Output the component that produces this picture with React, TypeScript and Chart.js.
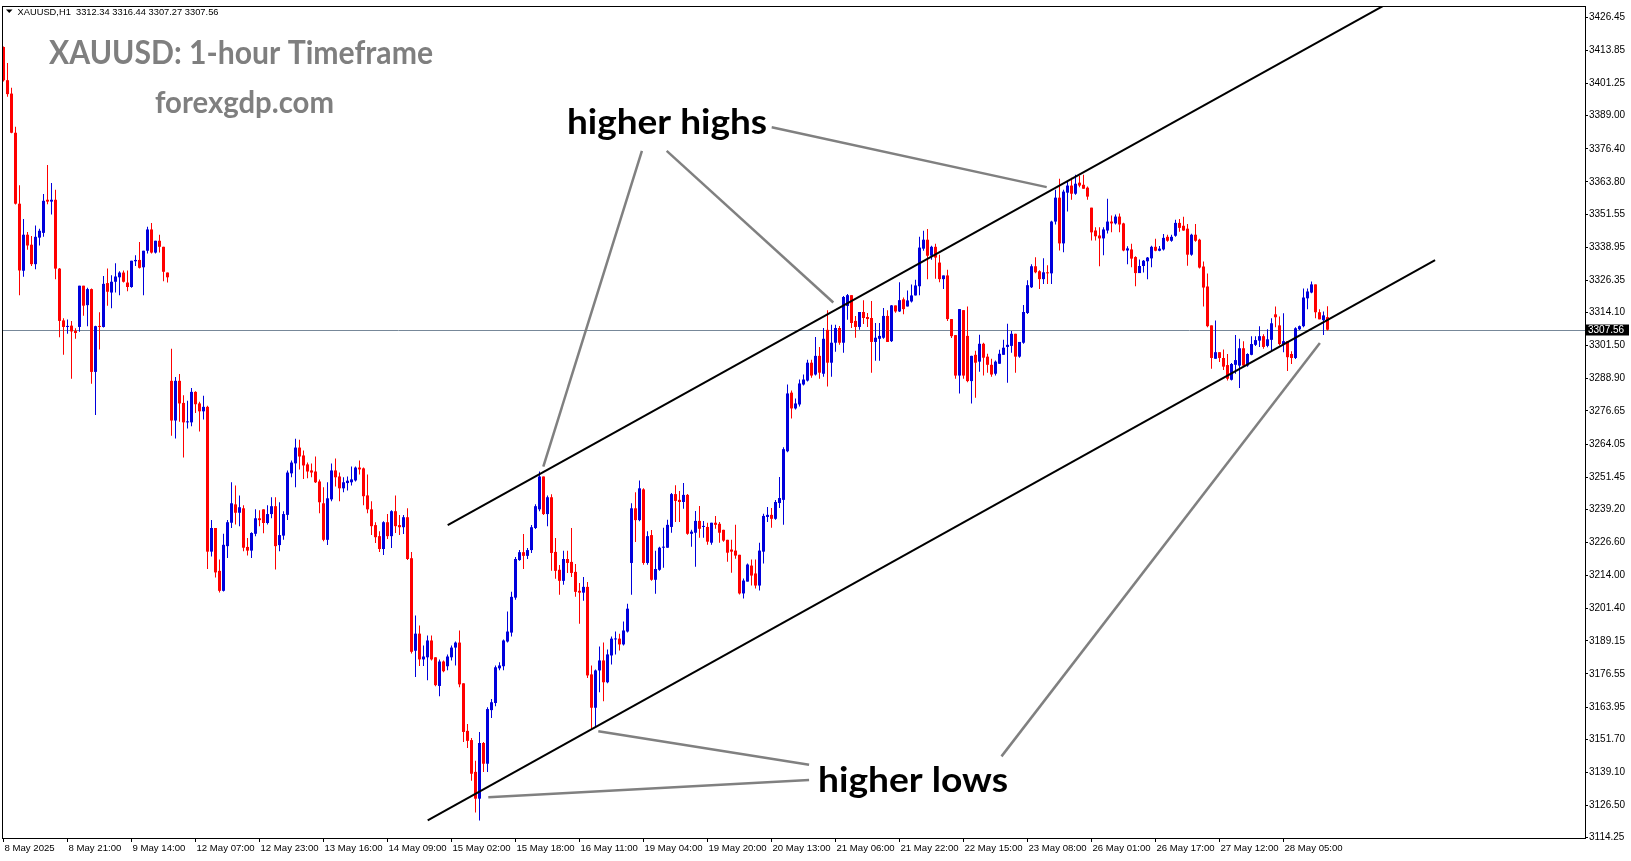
import { useEffect, useRef } from "react";
import { Chart, registerables } from "chart.js";

Chart.register(...registerables);

// ---- data (hourly XAUUSD candles) ----
const opens = [
  3415.1, 3402.5, 3397.4, 3382.5, 3355.5, 3330.0, 3343.7, 3339.9, 3332.5, 3342.6,
  3344.4, 3357.0, 3356.3, 3357.0, 3330.8, 3311.1, 3308.6, 3309.1, 3307.1, 3308.6,
  3324.3, 3316.9, 3323.0, 3291.5, 3309.0, 3308.6, 3325.3, 3321.7, 3325.8, 3327.5,
  3329.3, 3325.5, 3323.8, 3333.6, 3334.1, 3331.3, 3337.6, 3345.7, 3336.9, 3341.4,
  3339.1, 3329.3, 3288.1, 3273.0, 3288.1, 3279.7, 3272.3, 3272.3, 3283.9, 3279.5,
  3276.5, 3278.2, 3223.1, 3232.1, 3215.8, 3208.2, 3225.2, 3234.1, 3241.1, 3237.9,
  3239.6, 3224.9, 3223.5, 3229.9, 3235.8, 3239.2, 3234.0, 3237.4, 3240.4, 3225.6,
  3229.2, 3237.1, 3252.9, 3256.7, 3262.7, 3259.7, 3256.3, 3254.0, 3253.6, 3249.8,
  3241.5, 3227.6, 3243.0, 3254.0, 3251.7, 3247.2, 3249.2, 3249.5, 3250.2, 3255.1,
  3254.8, 3244.5, 3239.2, 3233.2, 3229.0, 3224.1, 3234.3, 3229.0, 3238.5, 3233.2,
  3232.4, 3236.2, 3220.6, 3185.4, 3191.9, 3182.1, 3182.9, 3189.3, 3182.9, 3172.0,
  3181.3, 3179.5, 3182.9, 3186.6, 3188.5, 3173.0, 3154.9, 3151.4, 3139.3, 3129.1,
  3150.3, 3142.4, 3162.8, 3165.5, 3178.7, 3179.5, 3188.9, 3192.3, 3205.6, 3219.9,
  3222.9, 3221.5, 3223.7, 3232.1, 3239.2, 3251.7, 3237.4, 3243.8, 3223.0, 3216.2,
  3212.0, 3220.3, 3219.2, 3215.4, 3208.2, 3207.5, 3209.7, 3176.4, 3163.7, 3177.9,
  3181.7, 3173.4, 3183.6, 3189.7, 3190.0, 3187.8, 3192.7, 3218.8, 3239.6, 3235.1,
  3246.8, 3218.8, 3229.4, 3212.4, 3216.2, 3224.6, 3224.6, 3232.5, 3245.0, 3242.8,
  3242.0, 3244.7, 3229.9, 3230.3, 3234.8, 3232.5, 3232.5, 3226.5, 3234.1, 3233.7,
  3231.4, 3227.6, 3223.9, 3223.5, 3221.9, 3207.2, 3211.7, 3217.8, 3214.8, 3210.2,
  3223.1, 3236.3, 3237.1, 3235.6, 3241.6, 3242.8, 3261.3, 3283.6, 3277.6, 3279.1,
  3286.7, 3288.2, 3295.0, 3290.5, 3297.6, 3290.8, 3307.5, 3295.0, 3302.6, 3308.2,
  3302.6, 3316.6, 3320.7, 3310.9, 3308.6, 3314.3, 3312.4, 3312.0, 3302.9, 3304.1,
  3304.5, 3312.8, 3303.2, 3316.8, 3314.5, 3319.1, 3316.4, 3318.3, 3320.6, 3324.1,
  3338.4, 3341.8, 3335.7, 3339.1, 3333.1, 3326.8, 3328.2, 3311.6, 3305.5, 3290.1,
  3315.0, 3305.2, 3288.0, 3298.0, 3295.4, 3302.2, 3297.3, 3294.2, 3290.8, 3294.6,
  3298.0, 3301.0, 3301.4, 3306.0, 3297.3, 3302.6, 3313.9, 3323.7, 3331.7, 3329.8,
  3326.8, 3329.4, 3329.0, 3348.7, 3357.8, 3340.4, 3359.7, 3362.4, 3359.3, 3363.5,
  3362.7, 3361.6, 3354.0, 3345.3, 3343.4, 3342.3, 3345.3, 3348.7, 3348.0, 3350.6,
  3348.0, 3337.7, 3338.1, 3335.2, 3329.1, 3331.8, 3333.6, 3334.7, 3339.1, 3337.6,
  3338.1, 3342.9, 3341.4, 3343.3, 3348.2, 3347.1, 3346.0, 3336.1, 3343.7, 3341.8,
  3331.6, 3324.0, 3309.2, 3296.5, 3299.0, 3296.8, 3294.1, 3288.5, 3294.2, 3293.9,
  3300.5, 3293.9, 3298.0, 3301.8, 3303.4, 3305.1, 3301.4, 3303.7, 3313.4, 3309.2,
  3302.1, 3303.2, 3298.3, 3296.8, 3307.7, 3308.9, 3319.5, 3321.7, 3324.8, 3314.2,
  3311.2, 3312.34,
];

const highs = [
  3415.3, 3409.0, 3399.6, 3384.8, 3362.5, 3349.7, 3344.7, 3343.2, 3347.2, 3346.0,
  3359.2, 3370.2, 3363.4, 3360.8, 3331.0, 3311.9, 3311.4, 3310.9, 3308.1, 3324.3,
  3324.3, 3323.5, 3323.2, 3309.1, 3314.2, 3328.0, 3330.8, 3328.3, 3332.8, 3329.8,
  3330.1, 3330.1, 3333.8, 3335.9, 3340.9, 3337.6, 3346.7, 3348.2, 3341.4, 3343.7,
  3339.1, 3329.3, 3300.3, 3289.6, 3290.7, 3282.6, 3280.5, 3285.4, 3284.1, 3280.1,
  3282.4, 3278.6, 3235.1, 3232.1, 3220.1, 3229.9, 3235.1, 3249.5, 3248.3, 3244.5,
  3240.8, 3228.3, 3230.5, 3239.2, 3238.9, 3239.2, 3240.8, 3243.8, 3243.8, 3241.9,
  3238.5, 3254.0, 3257.8, 3266.1, 3265.7, 3261.6, 3257.0, 3256.6, 3259.3, 3250.6,
  3247.6, 3249.5, 3256.6, 3258.5, 3253.2, 3251.4, 3251.7, 3255.5, 3255.5, 3257.8,
  3255.1, 3252.5, 3242.3, 3234.3, 3230.9, 3234.7, 3237.4, 3238.9, 3244.5, 3237.0,
  3237.0, 3239.6, 3223.0, 3198.8, 3195.0, 3187.4, 3191.2, 3191.2, 3182.9, 3182.1,
  3181.7, 3184.0, 3187.4, 3188.9, 3193.1, 3173.0, 3157.5, 3152.2, 3143.5, 3154.5,
  3150.7, 3163.9, 3167.0, 3179.8, 3181.0, 3189.7, 3200.3, 3207.8, 3221.1, 3223.7,
  3229.8, 3224.5, 3233.2, 3241.1, 3253.6, 3251.7, 3244.5, 3244.9, 3228.3, 3218.0,
  3223.4, 3223.4, 3232.1, 3218.4, 3211.2, 3213.5, 3211.6, 3179.8, 3178.3, 3187.0,
  3188.5, 3185.9, 3190.8, 3192.7, 3191.9, 3196.5, 3203.3, 3241.5, 3245.7, 3250.2,
  3247.2, 3230.9, 3231.3, 3223.4, 3225.0, 3232.2, 3235.2, 3245.4, 3248.4, 3246.2,
  3249.2, 3245.0, 3231.4, 3238.6, 3240.5, 3234.8, 3234.1, 3234.1, 3236.7, 3234.4,
  3231.4, 3227.6, 3227.6, 3233.3, 3221.9, 3212.9, 3218.6, 3220.1, 3220.1, 3226.5,
  3237.5, 3240.1, 3239.7, 3242.8, 3251.5, 3262.8, 3286.7, 3284.4, 3281.4, 3288.6,
  3290.5, 3296.1, 3296.1, 3304.8, 3301.0, 3308.2, 3315.0, 3309.4, 3309.4, 3309.0,
  3320.4, 3321.1, 3320.7, 3312.8, 3314.3, 3318.8, 3313.9, 3318.5, 3310.1, 3310.1,
  3315.8, 3315.0, 3317.0, 3316.8, 3325.6, 3319.8, 3322.5, 3324.8, 3326.6, 3342.9,
  3345.2, 3345.9, 3339.5, 3340.3, 3336.1, 3328.2, 3330.4, 3311.6, 3305.5, 3315.4,
  3315.0, 3316.4, 3297.6, 3299.5, 3305.6, 3302.6, 3298.4, 3296.5, 3295.8, 3299.9,
  3303.7, 3309.8, 3307.1, 3306.0, 3302.9, 3317.0, 3326.4, 3332.5, 3335.1, 3330.2,
  3334.7, 3332.1, 3349.0, 3360.8, 3365.0, 3360.8, 3364.2, 3365.4, 3366.5, 3366.1,
  3366.5, 3362.0, 3354.0, 3346.5, 3346.5, 3346.5, 3357.4, 3351.0, 3351.4, 3351.8,
  3348.3, 3339.3, 3340.3, 3335.5, 3334.3, 3334.1, 3335.2, 3339.5, 3342.2, 3339.4,
  3344.0, 3343.7, 3343.7, 3349.4, 3349.7, 3350.5, 3347.8, 3344.1, 3347.8, 3342.2,
  3333.5, 3328.9, 3309.2, 3311.1, 3299.0, 3300.0, 3298.3, 3294.9, 3305.5, 3304.1,
  3303.2, 3298.6, 3305.1, 3305.1, 3308.9, 3305.8, 3307.7, 3311.9, 3316.4, 3312.6,
  3313.8, 3303.2, 3299.4, 3308.5, 3309.2, 3323.2, 3323.2, 3325.9, 3324.8, 3315.3,
  3314.5, 3316.44,
];

const lows = [
  3402.0, 3396.2, 3382.3, 3355.2, 3320.7, 3327.7, 3338.0, 3331.8, 3330.6, 3339.6,
  3342.9, 3355.3, 3351.4, 3326.8, 3304.7, 3298.0, 3306.0, 3288.9, 3304.1, 3306.8,
  3312.9, 3308.9, 3287.0, 3275.1, 3300.0, 3308.4, 3316.7, 3315.7, 3321.7, 3320.7,
  3325.5, 3322.2, 3323.5, 3331.8, 3330.8, 3320.7, 3336.6, 3336.6, 3336.6, 3336.9,
  3326.0, 3325.5, 3267.2, 3266.2, 3272.5, 3258.9, 3270.0, 3270.8, 3275.9, 3268.8,
  3273.4, 3216.5, 3221.3, 3213.3, 3207.6, 3207.9, 3220.7, 3232.1, 3233.4, 3232.8,
  3223.3, 3221.6, 3220.7, 3229.0, 3232.8, 3230.1, 3233.4, 3235.8, 3216.3, 3223.3,
  3227.6, 3235.1, 3251.4, 3247.6, 3254.4, 3250.7, 3251.0, 3251.4, 3249.2, 3237.7,
  3227.1, 3225.6, 3242.3, 3247.9, 3242.3, 3245.7, 3246.4, 3248.3, 3249.8, 3252.5,
  3240.8, 3237.7, 3229.4, 3226.4, 3223.0, 3221.8, 3227.9, 3224.5, 3230.2, 3229.4,
  3229.8, 3219.9, 3184.3, 3175.4, 3179.6, 3179.6, 3174.2, 3181.7, 3171.9, 3168.1,
  3177.2, 3178.0, 3181.7, 3179.8, 3171.5, 3150.7, 3148.4, 3135.9, 3123.8, 3120.8,
  3139.3, 3139.3, 3159.8, 3164.3, 3178.0, 3178.0, 3188.5, 3190.8, 3204.8, 3219.6,
  3216.5, 3220.3, 3222.6, 3231.7, 3238.5, 3237.0, 3232.8, 3215.8, 3212.8, 3206.7,
  3210.5, 3215.0, 3213.5, 3205.9, 3195.7, 3204.4, 3175.0, 3155.2, 3156.4, 3169.6,
  3166.2, 3173.0, 3180.2, 3184.0, 3185.5, 3187.4, 3192.3, 3206.7, 3226.8, 3234.7,
  3218.1, 3218.1, 3212.0, 3207.1, 3215.8, 3217.0, 3224.6, 3230.3, 3234.4, 3234.4,
  3239.4, 3229.5, 3225.0, 3217.4, 3228.4, 3228.4, 3225.7, 3225.7, 3231.8, 3226.5,
  3226.9, 3219.3, 3215.1, 3220.4, 3206.8, 3205.3, 3211.7, 3210.2, 3209.1, 3208.3,
  3218.6, 3234.4, 3232.2, 3235.2, 3239.7, 3233.3, 3260.9, 3273.8, 3277.2, 3278.3,
  3286.3, 3287.8, 3289.3, 3290.1, 3288.9, 3289.7, 3285.9, 3289.7, 3299.2, 3301.8,
  3298.8, 3311.3, 3308.2, 3304.5, 3307.5, 3309.7, 3308.6, 3291.2, 3295.7, 3295.7,
  3304.1, 3302.9, 3302.9, 3314.0, 3314.3, 3313.4, 3316.4, 3317.9, 3320.6, 3320.7,
  3337.6, 3326.8, 3334.2, 3326.9, 3325.6, 3323.0, 3310.9, 3304.4, 3288.9, 3283.3,
  3288.9, 3287.6, 3279.5, 3281.7, 3291.6, 3290.1, 3291.2, 3289.7, 3290.1, 3294.6,
  3298.0, 3287.4, 3298.8, 3291.2, 3296.9, 3302.2, 3313.5, 3323.4, 3329.0, 3323.0,
  3324.9, 3324.9, 3324.9, 3347.6, 3337.7, 3337.0, 3352.5, 3357.0, 3358.9, 3361.8,
  3361.2, 3357.0, 3341.5, 3341.5, 3331.7, 3335.9, 3344.2, 3344.6, 3347.6, 3344.6,
  3337.4, 3332.5, 3331.3, 3324.1, 3329.1, 3329.3, 3326.8, 3331.3, 3337.4, 3337.4,
  3337.7, 3341.0, 3341.0, 3342.9, 3344.8, 3345.2, 3331.9, 3335.7, 3341.0, 3330.8,
  3316.4, 3308.5, 3292.7, 3296.5, 3295.3, 3292.2, 3288.2, 3288.2, 3290.8, 3285.4,
  3293.5, 3293.5, 3297.8, 3301.4, 3301.0, 3300.3, 3300.9, 3299.1, 3308.5, 3301.5,
  3299.0, 3291.8, 3294.5, 3296.4, 3307.4, 3308.5, 3315.3, 3321.4, 3311.9, 3311.5,
  3305.5, 3307.27,
];

const closes = [
  3402.5, 3397.2, 3382.5, 3355.5, 3330.1, 3343.7, 3339.6, 3332.5, 3342.9, 3345.2,
  3356.6, 3356.3, 3357.0, 3330.8, 3310.9, 3308.6, 3309.0, 3306.9, 3306.3, 3324.3,
  3316.7, 3323.0, 3291.5, 3308.9, 3308.6, 3325.0, 3322.0, 3325.8, 3327.8, 3329.3,
  3325.8, 3323.8, 3333.8, 3334.1, 3331.1, 3337.6, 3345.7, 3336.9, 3341.4, 3339.1,
  3329.6, 3327.5, 3273.0, 3288.1, 3279.5, 3272.3, 3272.6, 3283.9, 3279.2, 3276.5,
  3278.2, 3223.1, 3232.1, 3215.2, 3208.2, 3225.7, 3234.3, 3241.5, 3237.9, 3240.0,
  3224.6, 3223.5, 3230.2, 3235.8, 3235.1, 3234.0, 3237.4, 3240.4, 3225.2, 3229.4,
  3237.4, 3253.2, 3257.0, 3262.7, 3259.3, 3255.9, 3253.6, 3253.2, 3249.5, 3241.9,
  3227.6, 3243.4, 3254.0, 3251.4, 3247.2, 3249.5, 3250.1, 3250.6, 3255.1, 3254.4,
  3244.2, 3239.2, 3232.8, 3228.6, 3224.1, 3234.3, 3229.0, 3238.5, 3232.8, 3232.4,
  3236.2, 3220.3, 3185.0, 3191.9, 3182.1, 3183.2, 3189.3, 3182.1, 3172.3, 3181.3,
  3177.6, 3183.2, 3186.6, 3188.5, 3172.6, 3154.5, 3151.1, 3138.6, 3129.1, 3150.3,
  3142.4, 3163.2, 3165.8, 3179.1, 3179.8, 3189.3, 3192.7, 3205.9, 3220.3, 3222.9,
  3221.5, 3223.7, 3232.4, 3240.4, 3251.7, 3237.4, 3243.8, 3222.6, 3215.8, 3212.0,
  3220.3, 3218.8, 3215.0, 3207.8, 3207.5, 3209.7, 3176.0, 3163.7, 3177.9, 3181.7,
  3173.4, 3184.0, 3190.0, 3190.0, 3187.8, 3193.1, 3201.4, 3239.6, 3235.1, 3247.2,
  3218.8, 3229.0, 3212.4, 3216.5, 3224.6, 3225.0, 3233.3, 3245.0, 3242.4, 3242.0,
  3244.7, 3229.9, 3230.7, 3234.8, 3231.8, 3232.9, 3226.9, 3234.1, 3233.3, 3230.3,
  3227.3, 3222.7, 3223.1, 3221.6, 3207.2, 3212.1, 3218.2, 3214.0, 3210.2, 3223.5,
  3236.7, 3237.1, 3235.6, 3242.0, 3243.5, 3262.1, 3283.3, 3277.6, 3279.5, 3287.1,
  3288.6, 3295.0, 3290.1, 3297.6, 3291.2, 3304.1, 3295.0, 3302.6, 3308.2, 3302.6,
  3320.0, 3320.7, 3310.1, 3308.6, 3314.3, 3312.0, 3311.6, 3302.9, 3304.5, 3305.2,
  3312.8, 3302.9, 3316.8, 3314.5, 3318.8, 3315.4, 3318.7, 3320.6, 3324.4, 3338.8,
  3341.8, 3335.7, 3339.1, 3335.0, 3326.8, 3328.2, 3311.6, 3305.1, 3290.1, 3315.4,
  3290.1, 3288.0, 3297.6, 3295.0, 3302.2, 3296.9, 3294.2, 3290.5, 3295.4, 3298.4,
  3300.7, 3301.8, 3306.0, 3297.3, 3302.9, 3314.3, 3324.5, 3331.7, 3329.4, 3326.8,
  3329.4, 3329.0, 3348.7, 3357.8, 3340.4, 3360.1, 3362.4, 3359.3, 3363.1, 3362.4,
  3361.2, 3358.2, 3344.6, 3343.1, 3342.3, 3345.7, 3348.7, 3348.0, 3350.6, 3347.6,
  3337.7, 3338.5, 3334.6, 3329.1, 3331.8, 3333.8, 3335.0, 3339.1, 3337.6, 3338.4,
  3342.5, 3341.4, 3342.9, 3348.2, 3346.3, 3345.3, 3336.1, 3343.7, 3341.4, 3331.2,
  3323.6, 3308.9, 3296.8, 3299.0, 3296.8, 3293.5, 3288.9, 3294.5, 3296.0, 3300.5,
  3293.9, 3298.3, 3302.1, 3303.6, 3305.1, 3301.0, 3303.9, 3310.0, 3312.3, 3302.1,
  3303.2, 3297.1, 3296.8, 3308.1, 3308.9, 3319.8, 3322.1, 3324.8, 3314.2, 3311.5,
  3313.0, 3307.56,
];

const timeLabels = [
  "8 May 2025", "8 May 21:00", "9 May 14:00", "12 May 07:00", "12 May 23:00",
  "13 May 16:00", "14 May 09:00", "15 May 02:00", "15 May 18:00", "16 May 11:00",
  "19 May 04:00", "19 May 20:00", "20 May 13:00", "21 May 06:00", "21 May 22:00",
  "22 May 15:00", "23 May 08:00", "26 May 01:00", "26 May 17:00", "27 May 12:00",
  "28 May 05:00",
];
const timeLabelBars = [
  0, 16, 32, 48, 64, 80, 96, 112, 128, 144, 160, 176, 192, 208, 224, 240, 256,
  272, 288, 304, 320,
];

const priceTicks = [
  3426.45, 3413.85, 3401.25, 3389.0, 3376.4, 3363.8, 3351.55, 3338.95, 3326.35,
  3314.1, 3301.5, 3288.9, 3276.65, 3264.05, 3251.45, 3239.2, 3226.6, 3214.0,
  3201.4, 3189.15, 3176.55, 3163.95, 3151.7, 3139.1, 3126.5, 3114.25,
];

const lastPrice = 3307.56;
const headerText = "XAUUSD,H1  3312.34 3316.44 3307.27 3307.56";

// channel lines (bar index, price)
const upperChannel = [
  { x: 111.05, y: 3233.2 },
  { x: 360, y: 3443.5 },
];
const lowerChannel = [
  { x: 106.05, y: 3120.8 },
  { x: 357.9, y: 3334.0 },
];
// grey pointer lines (bar index, price)
const highPointers = [
  [{ x: 159.6, y: 3375.6 }, { x: 134.95, y: 3255.5 }],
  [{ x: 165.8, y: 3375.6 }, { x: 207.45, y: 3317.9 }],
  [{ x: 192.05, y: 3384.6 }, { x: 260.8, y: 3361.8 }],
];
const lowPointers = [
  [{ x: 201.4, y: 3142.0 }, { x: 148.7, y: 3154.8 }],
  [{ x: 201.4, y: 3136.2 }, { x: 121.2, y: 3129.6 }],
  [{ x: 249.5, y: 3145.2 }, { x: 329.1, y: 3302.5 }],
];

const BULL = "#0000dc";
const BEAR = "#ff0000";

function fitText(
  ctx: CanvasRenderingContext2D,
  text: string,
  x: number,
  y: number,
  font: string,
  width: number,
  color: string
) {
  ctx.save();
  ctx.font = font;
  ctx.fillStyle = color;
  ctx.textAlign = "left";
  ctx.textBaseline = "alphabetic";
  const w = ctx.measureText(text).width || 1;
  ctx.translate(x, y);
  ctx.scale(width / w, 1);
  ctx.fillText(text, 0, 0);
  ctx.restore();
}

const overlayPlugin = {
  id: "mt4overlay",
  beforeDatasetsDraw(chart: any) {
    const { ctx, chartArea, scales } = chart;
    const y = Math.round(scales.y.getPixelForValue(lastPrice)) + 0.5;
    ctx.save();
    ctx.strokeStyle = "#778899";
    ctx.lineWidth = 1;
    ctx.beginPath();
    ctx.moveTo(chartArea.left, y);
    ctx.lineTo(chartArea.right, y);
    ctx.stroke();
    ctx.restore();
  },
  afterDraw(chart: any) {
    const { ctx, chartArea, scales } = chart;
    ctx.save();
    // frame
    ctx.strokeStyle = "#000";
    ctx.lineWidth = 1;
    ctx.strokeRect(
      chartArea.left - 0.5,
      chartArea.top - 0.5,
      chartArea.right - chartArea.left + 1,
      chartArea.bottom - chartArea.top + 1
    );
    // header triangle + text
    ctx.fillStyle = "#000";
    ctx.beginPath();
    ctx.moveTo(6, 9.5);
    ctx.lineTo(12.5, 9.5);
    ctx.lineTo(9.25, 13);
    ctx.closePath();
    ctx.fill();
    ctx.restore();
    fitText(ctx, headerText, 17.5, 14.5, "9px 'Liberation Sans'", 201, "#000");

    // watermark titles
    fitText(ctx, "XAUUSD: 1-hour Timeframe", 49, 64, "bold 32px Lato", 384, "#7f7f7f");
    fitText(ctx, "forexgdp.com", 155, 113, "bold 30px Lato", 179, "#7f7f7f");

    // annotations
    fitText(ctx, "higher highs", 567, 134, "bold 34px Lato", 200, "#000");
    fitText(ctx, "higher lows", 818, 792, "bold 34px Lato", 190, "#000");

    // current price box
    const py = scales.y.getPixelForValue(lastPrice);
    ctx.save();
    ctx.fillStyle = "#000";
    ctx.fillRect(chartArea.right + 1, Math.round(py) - 5.5, 43, 11);
    ctx.fillStyle = "#fff";
    ctx.font = "10px 'Liberation Sans'";
    ctx.textAlign = "left";
    ctx.textBaseline = "middle";
    ctx.fillText(lastPrice.toFixed(2), chartArea.right + 3, Math.round(py) + 0.5);
    ctx.restore();
  },
};

export default function App() {
  const ref = useRef<HTMLCanvasElement | null>(null);

  useEffect(() => {
    document.body.style.margin = "0";
    const canvas = ref.current;
    if (!canvas) return;

    const colors = closes.map((c, i) => (c > opens[i] ? BULL : BEAR));
    const wickData = opens.map((o, i) => ({
      x: i,
      y: [Math.min(lows[i], o, closes[i]), Math.max(highs[i], o, closes[i])],
    }));
    const bodyData = opens.map((o, i) => ({ x: i, y: [o, closes[i]] }));

    const lineDs = (data: any, color: string, width: number) => ({
      type: "line",
      data,
      borderColor: color,
      borderWidth: width,
      pointRadius: 0,
      tension: 0,
      fill: false,
      order: 1,
    });

    const chart = new Chart(canvas, {
      type: "bar",
      data: {
        datasets: [
          {
            type: "bar",
            data: wickData,
            backgroundColor: colors,
            borderWidth: 0,
            barThickness: 1,
            maxBarThickness: 1,
            grouped: false,
            inflateAmount: 0,
            minBarLength: 1,
            order: 3,
          },
          {
            type: "bar",
            data: bodyData,
            backgroundColor: colors,
            borderWidth: 0,
            barThickness: 3,
            maxBarThickness: 3,
            grouped: false,
            inflateAmount: 0,
            minBarLength: 1,
            order: 2,
          },
          lineDs(upperChannel, "#000", 2),
          lineDs(lowerChannel, "#000", 2),
          ...highPointers.map((p) => lineDs(p, "#808080", 2.5)),
          ...lowPointers.map((p) => lineDs(p, "#808080", 2.5)),
        ] as any,
      },
      options: {
        animation: false,
        responsive: false,
        devicePixelRatio: 1,
        events: [],
        layout: { padding: { left: 3, top: 3, right: 0, bottom: 0 } },
        plugins: {
          legend: { display: false },
          tooltip: { enabled: false },
          title: { display: false },
        },
        scales: {
          x: {
            type: "linear",
            min: -0.125,
            max: 395.375,
            offset: false,
            border: { display: false },
            grid: {
              offset: false,
              drawOnChartArea: false,
              drawTicks: true,
              tickLength: 4,
              tickColor: "#000",
              color: "#000",
            },
            afterBuildTicks: (scale: any) => {
              scale.ticks = timeLabelBars.map((v) => ({ value: v }));
            },
            afterFit: (scale: any) => {
              scale.height = 23;
            },
            ticks: {
              autoSkip: false,
              maxRotation: 0,
              minRotation: 0,
              align: "start",
              labelOffset: 1,
              padding: 1,
              color: "#000",
              font: { family: "'Liberation Sans'", size: 9.6 },
              callback: (_v: any, i: number) => timeLabels[i],
            },
          },
          y: {
            type: "linear",
            position: "right",
            min: 3114.14,
            max: 3430.35,
            border: { display: false },
            grid: {
              drawOnChartArea: false,
              drawTicks: true,
              tickLength: 3,
              tickColor: "#000",
              color: "#000",
            },
            afterBuildTicks: (scale: any) => {
              scale.ticks = priceTicks.map((v) => ({ value: v }));
            },
            afterFit: (scale: any) => {
              scale.width = 46;
            },
            ticks: {
              autoSkip: false,
              padding: 1,
              color: "#000",
              font: { family: "'Liberation Sans'", size: 10 },
              callback: (v: any) => Number(v).toFixed(2),
            },
          },
        },
      } as any,
      plugins: [overlayPlugin as any],
    });

    return () => chart.destroy();
  }, []);

  return (
    <canvas
      ref={ref}
      width={1631}
      height={861}
      style={{ display: "block", width: 1631, height: 861, background: "#fff" }}
    />
  );
}
